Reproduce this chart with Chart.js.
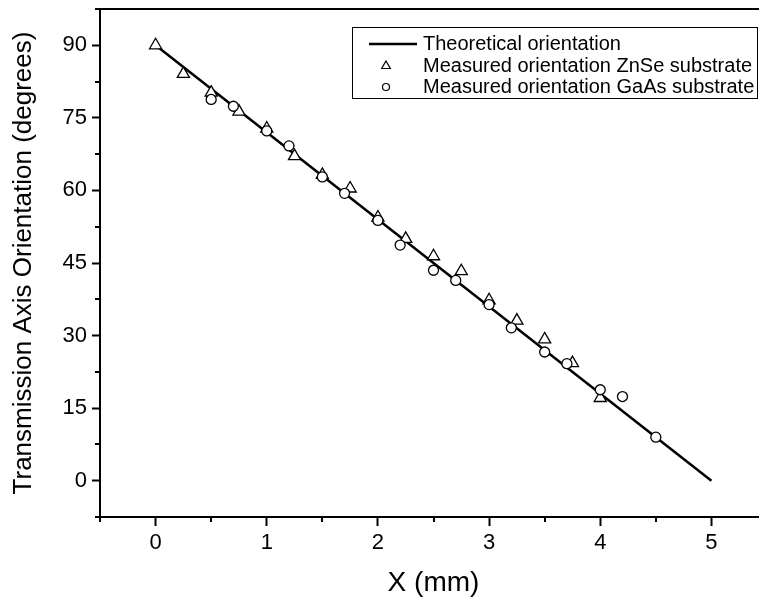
<!DOCTYPE html>
<html>
<head>
<meta charset="utf-8">
<script src="https://cdn.jsdelivr.net/npm/chart.js"></script>
<style>
  html, body { margin: 0; padding: 0; background: #fff; overflow: hidden; }
  #wrap { width: 790px; height: 597px; }
</style>
</head>
<body>
<div id="wrap"><canvas id="chart" width="790" height="597"></canvas></div>
<script>
// Data
const theoryX = [0, 5];
const theoryY = [90, 0];

const znseX = [0, 0.25, 0.5, 0.75, 1, 1.25, 1.5, 1.75, 2, 2.25, 2.5, 2.75, 3, 3.25, 3.5, 3.75, 4];
const znseY = [90, 84.1, 80.2, 76.3, 72.8, 67.1, 63.2, 60.4, 54.4, 50, 46.4, 43.3, 37.3, 33.1, 29.2, 24.3, 17.1];

const gaasX = [0.5, 0.7, 1, 1.2, 1.5, 1.7, 2, 2.2, 2.5, 2.7, 3, 3.2, 3.5, 3.7, 4, 4.2, 4.5];
const gaasY = [78.8, 77.4, 72.3, 69.2, 62.8, 59.4, 53.8, 48.7, 43.5, 41.4, 36.4, 31.6, 26.6, 24.2, 18.8, 17.4, 9.0];

const seriesLabels = ['Theoretical orientation', 'Measured orientation ZnSe substrate', 'Measured orientation GaAs substrate'];

const xTicks = [0, 1, 2, 3, 4, 5];
const xMinorTicks = [-0.5, 0.5, 1.5, 2.5, 3.5, 4.5, 5.5];
const yTicks = [0, 15, 30, 45, 60, 75, 90];
const yMinorTicks = [-7.5, 7.5, 22.5, 37.5, 52.5, 67.5, 82.5, 97.5];

const FONT = 'Arial, "Liberation Sans", sans-serif';

function toPoints(xs, ys) {
  return xs.map((x, i) => ({ x: x, y: ys[i] }));
}

// minor ticks, top border and the boxed legend
const framePlugin = {
  id: 'frame',
  afterDraw(chart) {
    const ctx = chart.ctx;
    const area = chart.chartArea;
    const xs = chart.scales.x;
    const ys = chart.scales.y;
    ctx.save();
    ctx.strokeStyle = '#000';
    ctx.lineWidth = 2;
    ctx.beginPath();
    ctx.moveTo(area.left - 1, area.top);
    ctx.lineTo(area.right, area.top);
    ctx.stroke();

    xMinorTicks.forEach(v => {
      const px = Math.round(xs.getPixelForValue(v));
      ctx.beginPath();
      ctx.moveTo(px, area.bottom);
      ctx.lineTo(px, area.bottom + 5);
      ctx.stroke();
    });
    yMinorTicks.forEach(v => {
      const py = Math.round(ys.getPixelForValue(v));
      ctx.beginPath();
      ctx.moveTo(area.left, py);
      ctx.lineTo(area.left - 5, py);
      ctx.stroke();
    });

    // legend box
    const bx = 352, by = 27, bw = 405, bh = 71;
    ctx.lineWidth = 1;
    ctx.fillStyle = '#fff';
    ctx.fillRect(bx, by, bw, bh);
    ctx.strokeRect(bx + 0.5, by + 0.5, bw, bh);

    const rows = [44, 66, 87];
    ctx.font = '20px ' + FONT;
    ctx.fillStyle = '#000';
    ctx.textBaseline = 'middle';
    ctx.textAlign = 'left';
    rows.forEach((ry, i) => {
      ctx.fillText(seriesLabels[i], 423, ry);
    });

    ctx.lineWidth = 2.5;
    ctx.beginPath();
    ctx.moveTo(369, rows[0]);
    ctx.lineTo(417, rows[0]);
    ctx.stroke();

    ctx.lineWidth = 1.2;
    const r = 5;
    ctx.beginPath();
    ctx.moveTo(386, rows[1] - r);
    ctx.lineTo(386 + r * 0.866, rows[1] + r / 2);
    ctx.lineTo(386 - r * 0.866, rows[1] + r / 2);
    ctx.closePath();
    ctx.stroke();

    ctx.beginPath();
    ctx.arc(386, rows[2], 3.5, 0, Math.PI * 2);
    ctx.stroke();
    ctx.restore();
  }
};

new Chart(document.getElementById('chart'), {
  type: 'scatter',
  data: {
    datasets: [
      {
        label: seriesLabels[0],
        data: toPoints(theoryX, theoryY),
        showLine: true,
        borderColor: '#000',
        borderWidth: 2.5,
        pointRadius: 0,
        order: 3
      },
      {
        label: seriesLabels[1],
        data: toPoints(znseX, znseY),
        pointStyle: 'triangle',
        pointRadius: 7,
        pointBorderWidth: 1.3,
        pointBorderColor: '#000',
        pointBackgroundColor: '#fff',
        order: 2
      },
      {
        label: seriesLabels[2],
        data: toPoints(gaasX, gaasY),
        pointStyle: 'circle',
        pointRadius: 5,
        pointBorderWidth: 1.3,
        pointBorderColor: '#000',
        pointBackgroundColor: '#fff',
        order: 1
      }
    ]
  },
  options: {
    responsive: false,
    animation: false,
    layout: { padding: { top: 9, right: 23, left: 0, bottom: 0 } },
    plugins: {
      legend: { display: false },
      tooltip: { enabled: false }
    },
    scales: {
      x: {
        type: 'linear',
        min: -0.5,
        max: 5.5,
        afterBuildTicks: s => { s.ticks = xTicks.map(v => ({ value: v })); },
        afterFit: s => { s.height = 80; s.paddingLeft = 0; s.paddingRight = 0; },
        grid: { drawOnChartArea: false, drawTicks: true, tickLength: 9, tickWidth: 2, tickColor: '#000' },
        border: { display: true, color: '#000', width: 2 },
        ticks: { color: '#000', font: { family: FONT, size: 22 }, padding: 4, maxRotation: 0 },
        title: { display: true, text: 'X (mm)', color: '#000', font: { family: FONT, size: 28, lineHeight: 1.0 }, padding: { top: 0, bottom: 0 } }
      },
      y: {
        type: 'linear',
        min: -7.5,
        max: 97.5,
        afterBuildTicks: s => { s.ticks = yTicks.map(v => ({ value: v })); },
        afterFit: s => { s.width = 100; s.paddingTop = 0; s.paddingBottom = 0; },
        grid: { drawOnChartArea: false, drawTicks: true, tickLength: 8, tickWidth: 2, tickColor: '#000' },
        border: { display: true, color: '#000', width: 2 },
        ticks: { color: '#000', font: { family: FONT, size: 22 }, padding: 5 },
        title: { display: true, text: 'Transmission Axis Orientation (degrees)', color: '#000', font: { family: FONT, size: 26 }, padding: { top: 8, bottom: 0 } }
      }
    }
  },
  plugins: [framePlugin]
});
</script>
</body>
</html>
